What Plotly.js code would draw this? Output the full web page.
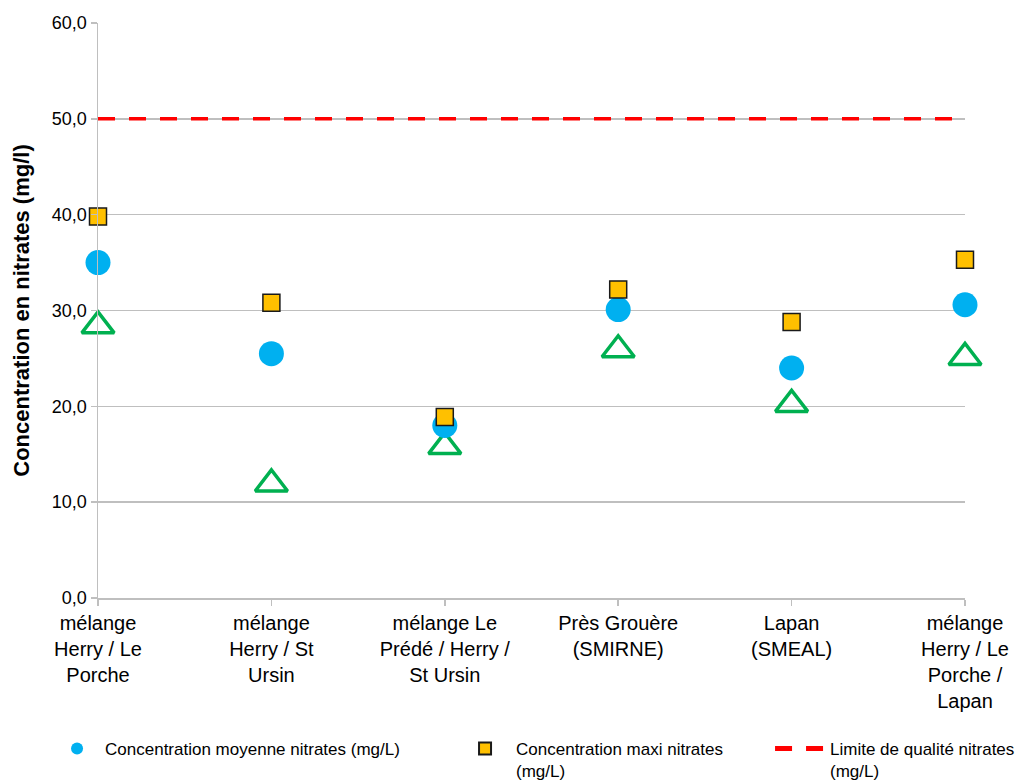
<!DOCTYPE html>
<html>
<head>
<meta charset="utf-8">
<script src="https://cdn.plot.ly/plotly-3.0.1.min.js"></script>
<style>
  html, body { margin: 0; padding: 0; background: #fff; }
  #chart { width: 1024px; height: 782px; }
</style>
</head>
<body>
<div id="chart"></div>
<script>
const categories = [
  "mélange<br>Herry / Le<br>Porche",
  "mélange<br>Herry / St<br>Ursin",
  "mélange Le<br>Prédé / Herry /<br>St Ursin",
  "Près Grouère<br>(SMIRNE)",
  "Lapan<br>(SMEAL)",
  "mélange<br>Herry / Le<br>Porche /<br>Lapan"
];
const meanValues = [35.0, 25.5, 18.0, 30.1, 24.0, 30.6];
const maxValues  = [39.8, 30.8, 18.9, 32.2, 28.8, 35.3];
const minValues  = [28.4, 11.9, 15.8, 25.9, 20.2, 25.1];
const limitValues = [50, 50, 50, 50, 50, 50];
const yTicks = [0, 10, 20, 30, 40, 50, 60];

const FONT = "Liberation Sans, Arial, sans-serif";
const GRID = "#bfbfbf";

const traces = [
  {
    type: "scatter", mode: "markers", x: categories, y: minValues,
    name: "Concentration mini nitrates (mg/L)", showlegend: false,
    cliponaxis: false,
    marker: { symbol: "triangle-up-open", size: 28, color: "#00b050", line: { width: 3.5, color: "#00b050" } }
  },
  {
    type: "scatter", mode: "markers", x: categories, y: meanValues,
    name: "Concentration moyenne nitrates (mg/L)", legend: "legend",
    cliponaxis: false,
    marker: { symbol: "circle", size: 25, color: "#00b0f0", line: { width: 0 } }
  },
  {
    type: "scatter", mode: "markers", x: categories, y: maxValues,
    name: "Concentration maxi nitrates<br>(mg/L)", legend: "legend2",
    cliponaxis: false,
    marker: { symbol: "square", size: 17, color: "#ffc000", line: { width: 1.5, color: "#1a1a1a" } }
  },
  {
    type: "scatter", mode: "lines", x: categories, y: limitValues,
    name: "Limite de qualité nitrates<br>(mg/L)", legend: "legend3",
    cliponaxis: false,
    line: { color: "#ff0000", width: 3.5, dash: "17px,14px" }
  }
];

const legendCommon = {
  orientation: "h", xref: "container", yref: "container",
  yanchor: "top", xanchor: "left", y: 0.0652,
  valign: "top", itemsizing: "constant",
  font: { family: FONT, size: 17, color: "#000" },
  bgcolor: "rgba(0,0,0,0)"
};

const layout = {
  width: 1024, height: 782,
  margin: { l: 98, r: 59, t: 23, b: 184 },
  paper_bgcolor: "#fff", plot_bgcolor: "#fff",
  font: { family: FONT, color: "#000" },
  showlegend: true,
  xaxis: {
    type: "category", range: [0, 5],
    showgrid: false, zeroline: false,
    showline: true, linecolor: GRID, linewidth: 1.5,
    ticks: "outside", ticklen: 6, tickcolor: GRID, tickwidth: 1.5,
    tickfont: { family: FONT, size: 20, color: "#000" },
    tickangle: 0, automargin: false
  },
  yaxis: {
    range: [0, 60], tickvals: yTicks, tickformat: ".1f",
    showgrid: true, gridcolor: GRID, gridwidth: 1.5,
    zeroline: false,
    showline: true, linecolor: GRID, linewidth: 1.5,
    ticks: "outside", ticklen: 6, tickcolor: GRID, tickwidth: 1.5,
    tickfont: { family: FONT, size: 18, color: "#000" },
    title: { text: "<b>Concentration en nitrates (mg/l)</b>", font: { family: FONT, size: 22, color: "#000" }, standoff: 16 },
    automargin: false
  },
  separators: ", ",
  legend: Object.assign({}, legendCommon, { x: 0.0479, itemwidth: 46 }),
  legend2: Object.assign({}, legendCommon, { x: 0.4434, itemwidth: 52 }),
  legend3: Object.assign({}, legendCommon, { x: 0.752, itemwidth: 50 })
};

Plotly.newPlot("chart", traces, layout, { staticPlot: true, displayModeBar: false });
</script>
</body>
</html>
